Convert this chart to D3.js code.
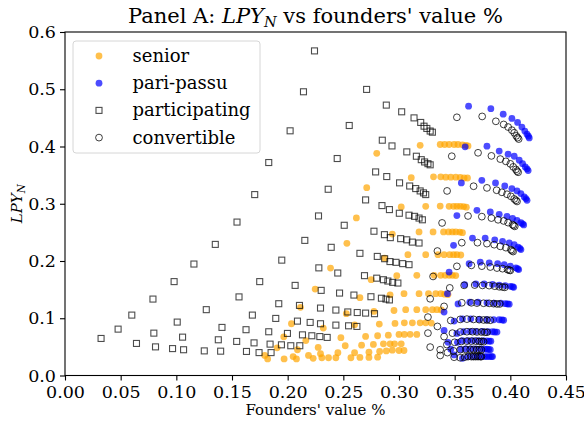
<!DOCTYPE html>
<html><head><meta charset="utf-8">
<script src="https://cdn.jsdelivr.net/npm/d3@7"></script>
<style>body{margin:0;background:#fff;} svg{display:block;} text{font-family:"DejaVu Serif",serif;fill:#000;}</style>
</head><body><svg id="c" width="584" height="421"></svg>
<script>
const xTicks=[0,0.05,0.10,0.15,0.20,0.25,0.30,0.35,0.40,0.45];
const yTicks=[0,0.1,0.2,0.3,0.4,0.5,0.6];
const seriesNames=["senior","pari-passu","participating","convertible"];

const seniorPts=[
[0.280,0.388],[0.319,0.402],[0.337,0.4035],[0.341,0.4035],[0.345,0.4035],[0.3495,0.4035],[0.353,0.4035],[0.357,0.403],[0.360,0.402],[0.362,0.401],
[0.271,0.328],[0.311,0.3455],[0.331,0.347],[0.3375,0.347],[0.342,0.3465],[0.3465,0.3465],[0.351,0.3465],[0.355,0.346],[0.3585,0.345],[0.3615,0.345],
[0.2617,0.2752],[0.302,0.2945],[0.324,0.2955],[0.337,0.296],[0.345,0.2955],[0.349,0.2955],[0.352,0.2955],[0.355,0.2955],[0.358,0.295],[0.3605,0.294],
[0.2532,0.2309],[0.294,0.247],[0.318,0.2507],[0.3306,0.2507],[0.340,0.2507],[0.3445,0.2507],[0.348,0.2507],[0.351,0.2507],[0.3545,0.2505],[0.357,0.2495],
[0.2385,0.1877],[0.287,0.205],[0.308,0.211],[0.324,0.211],[0.335,0.211],[0.3405,0.211],[0.3455,0.211],[0.349,0.211],[0.352,0.211],[0.3555,0.2105],
[0.2247,0.151],[0.275,0.1674],[0.298,0.1744],[0.316,0.175],[0.3315,0.175],[0.3375,0.175],[0.3415,0.175],[0.345,0.175],[0.348,0.175],[0.351,0.1745],
[0.2115,0.119],[0.2649,0.1359],[0.292,0.141],[0.3045,0.143],[0.318,0.143],[0.3265,0.143],[0.333,0.143],[0.3375,0.143],[0.341,0.142],[0.344,0.1415],
[0.2034,0.0904],[0.2527,0.108],[0.2775,0.112],[0.2955,0.1135],[0.306,0.115],[0.316,0.115],[0.324,0.115],[0.330,0.115],[0.334,0.115],[0.338,0.1145],
[0.1965,0.0676],[0.232,0.0828],[0.2601,0.0885],[0.2823,0.0898],[0.2964,0.091],[0.3048,0.092],[0.312,0.092],[0.319,0.092],[0.324,0.092],[0.329,0.0915],
[0.1905,0.0484],[0.2163,0.061],[0.2478,0.066],[0.270,0.0682],[0.2808,0.0694],[0.2904,0.0705],[0.300,0.0717],[0.3048,0.0717],[0.310,0.072],[0.316,0.0717],
[0.1794,0.035],[0.2088,0.045],[0.2274,0.049],[0.2517,0.052],[0.2664,0.053],[0.277,0.0543],[0.286,0.0554],[0.292,0.0554],[0.296,0.0554],[0.302,0.0554],
[0.182,0.029],[0.2187,0.035],[0.2295,0.038],[0.2451,0.0397],[0.2601,0.0397],[0.273,0.0408],[0.2826,0.042],[0.2886,0.043],[0.294,0.0443],[0.300,0.0437],[0.3045,0.0437],
[0.1968,0.029],[0.2049,0.033],[0.2079,0.029],[0.2229,0.030],[0.2307,0.031],[0.2367,0.031],[0.2433,0.031],[0.2568,0.031],[0.2649,0.0315],[0.273,0.0315],[0.2808,0.032]
];

const pariPassuPts=[
[0.3625,0.4705],[0.3825,0.466],[0.3936,0.4565],[0.4014,0.449],[0.4065,0.442],[0.4104,0.434],[0.413,0.427],[0.415,0.4215],[0.4162,0.418],[0.417,0.415],
[0.3594,0.3994],[0.379,0.4005],[0.390,0.392],[0.398,0.3866],[0.4035,0.383],[0.408,0.376],[0.411,0.370],[0.4134,0.3644],[0.415,0.361],[0.416,0.358],
[0.356,0.3364],[0.3744,0.341],[0.3867,0.3364],[0.395,0.331],[0.4014,0.3265],[0.406,0.3224],[0.4095,0.3177],[0.4125,0.312],[0.414,0.309],[0.415,0.306],
[0.352,0.2793],[0.370,0.2886],[0.382,0.2857],[0.390,0.2816],[0.397,0.278],[0.402,0.2746],[0.406,0.271],[0.4095,0.267],[0.411,0.265],[0.412,0.263],
[0.349,0.2274],[0.366,0.240],[0.3774,0.240],[0.386,0.237],[0.393,0.2344],[0.399,0.2314],[0.4035,0.2285],[0.407,0.2244],[0.4085,0.222],[0.4095,0.220],
[0.345,0.1807],[0.363,0.1953],[0.373,0.198],[0.381,0.1965],[0.3886,0.1953],[0.3945,0.1936],[0.400,0.191],[0.405,0.188],[0.4065,0.1865],[0.4075,0.185],
[0.3435,0.143],[0.359,0.1586],[0.369,0.160],[0.3765,0.160],[0.384,0.159],[0.390,0.158],[0.3954,0.157],[0.400,0.1557],[0.402,0.155],[0.403,0.154],
[0.3405,0.1107],[0.353,0.125],[0.3636,0.128],[0.371,0.128],[0.379,0.127],[0.3855,0.1265],[0.3915,0.1265],[0.3955,0.1255],[0.3975,0.125],[0.399,0.1245],
[0.3405,0.0787],[0.3495,0.095],[0.357,0.099],[0.3645,0.099],[0.372,0.098],[0.379,0.0974],[0.385,0.0974],[0.390,0.0974],[0.3925,0.097],[0.394,0.0965],
[0.344,0.058],[0.352,0.0735],[0.358,0.0765],[0.364,0.077],[0.369,0.077],[0.375,0.077],[0.380,0.0765],[0.384,0.0764],[0.386,0.076],[0.388,0.0758],
[0.3465,0.046],[0.3525,0.058],[0.357,0.061],[0.362,0.061],[0.3665,0.061],[0.371,0.061],[0.3755,0.061],[0.379,0.0605],[0.381,0.060],[0.3825,0.060],
[0.3495,0.036],[0.3555,0.0455],[0.360,0.0466],[0.3645,0.0466],[0.369,0.0466],[0.3735,0.0466],[0.377,0.046],[0.379,0.046],[0.3805,0.0455],[0.382,0.045],
[0.357,0.030],[0.362,0.033],[0.3665,0.033],[0.3705,0.033],[0.374,0.033],[0.377,0.033],[0.379,0.033],[0.381,0.033],[0.383,0.033],[0.384,0.033]
];

const participatingPts=[
[0.2241,0.567],[0.2709,0.4997],[0.2886,0.4723],[0.3024,0.4606],[0.3135,0.450],[0.3195,0.442],[0.3225,0.4355],[0.325,0.4315],[0.328,0.427],[0.330,0.425],
[0.2142,0.4956],[0.2553,0.4367],[0.285,0.411],[0.2937,0.401],[0.307,0.3906],[0.3156,0.383],[0.320,0.377],[0.323,0.373],[0.326,0.370],[0.328,0.368],
[0.2022,0.4274],[0.2445,0.379],[0.279,0.3556],[0.289,0.3475],[0.3005,0.3365],[0.3096,0.331],[0.315,0.3265],[0.319,0.3224],[0.322,0.319],[0.324,0.316],
[0.183,0.372],[0.2364,0.3253],[0.270,0.3067],[0.2847,0.2968],[0.2914,0.2898],[0.3003,0.2834],[0.309,0.280],[0.314,0.278],[0.318,0.275],[0.321,0.272],
[0.1704,0.316],[0.2277,0.2787],[0.2508,0.2624],[0.2775,0.252],[0.2869,0.246],[0.2922,0.2408],[0.3015,0.239],[0.307,0.237],[0.312,0.233],[0.318,0.2314],
[0.1545,0.268],[0.2154,0.236],[0.2391,0.2239],[0.2649,0.2134],[0.2805,0.208],[0.2871,0.204],[0.2919,0.199],[0.2973,0.1977],[0.3033,0.1954],[0.309,0.1936],
[0.135,0.229],[0.1947,0.2015],[0.228,0.188],[0.245,0.179],[0.269,0.1744],[0.280,0.170],[0.286,0.1673],[0.290,0.165],[0.2943,0.1627],[0.299,0.1615],
[0.1158,0.1947],[0.1749,0.164],[0.2067,0.1574],[0.2301,0.1487],[0.2466,0.144],[0.2595,0.1405],[0.2748,0.1376],[0.2842,0.135],[0.2883,0.1335],[0.2914,0.132],
[0.098,0.164],[0.1563,0.1373],[0.192,0.1254],[0.2106,0.1224],[0.2295,0.1178],[0.2433,0.1143],[0.254,0.111],[0.2625,0.110],[0.270,0.109],[0.278,0.108],
[0.079,0.1335],[0.1269,0.115],[0.1683,0.1055],[0.1893,0.0997],[0.2088,0.095],[0.2202,0.0927],[0.2295,0.0904],[0.2433,0.088],[0.2547,0.0868],[0.2622,0.0857],
[0.060,0.1055],[0.1008,0.0933],[0.141,0.084],[0.1626,0.080],[0.183,0.0764],[0.1998,0.0735],[0.2133,0.071],[0.2217,0.0694],[0.2289,0.068],[0.2355,0.0665],
[0.0477,0.081],[0.0798,0.074],[0.1056,0.067],[0.1377,0.0624],[0.1542,0.0595],[0.1698,0.057],[0.1842,0.0548],[0.1944,0.0536],[0.2028,0.052],[0.2109,0.052],
[0.0324,0.0647],[0.0642,0.056],[0.0813,0.050],[0.0966,0.047],[0.1065,0.045],[0.1251,0.043],[0.1398,0.0425],[0.163,0.042],[0.1743,0.040],[0.1851,0.040]
];

const convertiblePts=[
[0.352,0.451],[0.3747,0.4525],[0.387,0.444],[0.394,0.4385],[0.398,0.434],[0.4014,0.4285],[0.4035,0.424],[0.4053,0.4186],[0.4065,0.4155],[0.4075,0.413],
[0.3474,0.383],[0.371,0.389],[0.383,0.3836],[0.391,0.378],[0.396,0.374],[0.400,0.3697],[0.4026,0.3644],[0.405,0.360],[0.406,0.357],[0.407,0.355],
[0.3432,0.3224],[0.367,0.3306],[0.379,0.3277],[0.3877,0.3236],[0.3924,0.320],[0.397,0.3166],[0.4005,0.313],[0.4035,0.3084],[0.405,0.306],[0.406,0.304],
[0.3387,0.2665],[0.362,0.2787],[0.3744,0.2775],[0.383,0.275],[0.389,0.272],[0.394,0.270],[0.398,0.267],[0.402,0.2635],[0.403,0.262],[0.404,0.2605],
[0.3345,0.2174],[0.3564,0.232],[0.3705,0.232],[0.379,0.2303],[0.3855,0.2285],[0.391,0.2256],[0.396,0.2233],[0.4005,0.2198],[0.4015,0.218],[0.4025,0.2165],
[0.3306,0.173],[0.352,0.1907],[0.365,0.1924],[0.3744,0.191],[0.382,0.1895],[0.388,0.1877],[0.393,0.1866],[0.3975,0.185],[0.399,0.184],[0.400,0.1835],
[0.328,0.134],[0.3456,0.153],[0.3585,0.1575],[0.368,0.158],[0.375,0.1574],[0.381,0.157],[0.386,0.156],[0.390,0.155],[0.393,0.1545],[0.395,0.154],
[0.326,0.102],[0.3405,0.1207],[0.3564,0.127],[0.365,0.127],[0.370,0.1265],[0.376,0.1262],[0.381,0.126],[0.385,0.1255],[0.388,0.125],[0.3905,0.125],
[0.326,0.074],[0.3345,0.0857],[0.3465,0.096],[0.355,0.098],[0.361,0.0985],[0.367,0.098],[0.372,0.0975],[0.376,0.097],[0.379,0.097],[0.382,0.0965],
[0.328,0.0496],[0.3405,0.068],[0.348,0.074],[0.355,0.076],[0.361,0.0765],[0.366,0.0765],[0.370,0.076],[0.374,0.076],[0.377,0.0755],[0.379,0.0755],
[0.337,0.045],[0.343,0.054],[0.350,0.058],[0.356,0.0595],[0.361,0.060],[0.365,0.060],[0.369,0.060],[0.372,0.0595],[0.374,0.0595],[0.376,0.059],
[0.337,0.035],[0.3435,0.040],[0.349,0.043],[0.355,0.045],[0.360,0.0455],[0.364,0.0455],[0.367,0.0455],[0.370,0.045],[0.372,0.045],[0.374,0.045],
[0.3495,0.032],[0.355,0.031],[0.359,0.032],[0.362,0.033],[0.365,0.033],[0.367,0.033],[0.369,0.033],[0.371,0.033],[0.373,0.033],[0.374,0.033]
];

const svg=d3.select("#c");
const L=65,R=566,T=32,B=375.5;
const x=d3.scaleLinear().domain([0,0.45]).range([L,R]);
const y=d3.scaleLinear().domain([0,0.6]).range([B,T]);
const rC=3.4, sq=6;

// title
const title=svg.append("text").attr("x",(L+R)/2).attr("y",23).attr("text-anchor","middle").style("font-size","21px");
title.append("tspan").text("Panel A: ");
title.append("tspan").style("font-style","italic").text("LPY");
title.append("tspan").style("font-style","italic").style("font-size","14.5px").attr("dy",4).text("N");
title.append("tspan").attr("dy",-4).text(" vs founders' value %");

// clip
svg.append("clipPath").attr("id","pc").append("rect").attr("x",L).attr("y",T).attr("width",R-L).attr("height",B-T);
const g=svg.append("g").attr("clip-path","url(#pc)");

g.append("g").selectAll("circle").data(seniorPts).join("circle")
 .attr("cx",d=>x(d[0])).attr("cy",d=>y(d[1])).attr("r",rC)
 .attr("fill","orange").attr("fill-opacity",0.7);
g.append("g").selectAll("circle").data(pariPassuPts).join("circle")
 .attr("cx",d=>x(d[0])).attr("cy",d=>y(d[1])).attr("r",rC)
 .attr("fill","blue").attr("fill-opacity",0.7);
g.append("g").selectAll("rect").data(participatingPts).join("rect")
 .attr("x",d=>x(d[0])-sq/2).attr("y",d=>y(d[1])-sq/2).attr("width",sq).attr("height",sq)
 .attr("fill","none").attr("stroke","#000").attr("stroke-opacity",0.7).attr("stroke-width",1.1);
g.append("g").selectAll("circle").data(convertiblePts).join("circle")
 .attr("cx",d=>x(d[0])).attr("cy",d=>y(d[1])).attr("r",rC)
 .attr("fill","none").attr("stroke","#000").attr("stroke-opacity",0.75).attr("stroke-width",1);

// axes
const xa=svg.append("g").attr("transform",`translate(0,${B})`)
 .call(d3.axisBottom(x).tickValues(xTicks).tickFormat(d3.format(".2f")).tickSize(5).tickPadding(5).tickSizeOuter(0));
const ya=svg.append("g").attr("transform",`translate(${L},0)`)
 .call(d3.axisLeft(y).tickValues(yTicks).tickFormat(d3.format(".1f")).tickSize(5).tickPadding(4).tickSizeOuter(0));
[xa,ya].forEach(a=>{a.select(".domain").remove();a.selectAll("line").attr("stroke","#000").attr("stroke-width",1.1);
 a.selectAll("text").style("font-family","DejaVu Serif").style("font-size","17.5px").attr("fill","#000");});

svg.append("rect").attr("x",L).attr("y",T).attr("width",R-L).attr("height",B-T)
 .attr("fill","none").attr("stroke","#000").attr("stroke-width",1.1);

// axis labels
svg.append("text").attr("x",(L+R)/2).attr("y",415).attr("text-anchor","middle").style("font-size","15px").text("Founders' value %");
const yl=svg.append("text").attr("transform",`translate(22,${(T+B)/2}) rotate(-90)`).attr("text-anchor","middle").style("font-size","15px").style("font-style","italic");
yl.append("tspan").text("LPY");
yl.append("tspan").style("font-size","10.5px").attr("dy",3).text("N");

// legend
const lg=svg.append("g");
lg.append("rect").attr("x",73).attr("y",41).attr("width",187).attr("height",112).attr("rx",3)
 .attr("fill","#fff").attr("fill-opacity",0.8).attr("stroke","#d6d6d6").attr("stroke-width",1);
const rowsY=[56,83.2,110.4,137.6];
seriesNames.forEach((nm,i)=>{
  const cy=rowsY[i], cx=99;
  if(i===0) lg.append("circle").attr("cx",cx).attr("cy",cy).attr("r",rC).attr("fill","orange").attr("fill-opacity",0.7);
  if(i===1) lg.append("circle").attr("cx",cx).attr("cy",cy).attr("r",rC).attr("fill","blue").attr("fill-opacity",0.7);
  if(i===2) lg.append("rect").attr("x",cx-sq/2).attr("y",cy-sq/2).attr("width",sq).attr("height",sq).attr("fill","none").attr("stroke","#000").attr("stroke-opacity",0.7).attr("stroke-width",1.1);
  if(i===3) lg.append("circle").attr("cx",cx).attr("cy",cy).attr("r",rC).attr("fill","none").attr("stroke","#000").attr("stroke-opacity",0.75);
  lg.append("text").attr("x",132.5).attr("y",cy+6).style("font-size","18px").text(nm);
});
</script></body></html>
